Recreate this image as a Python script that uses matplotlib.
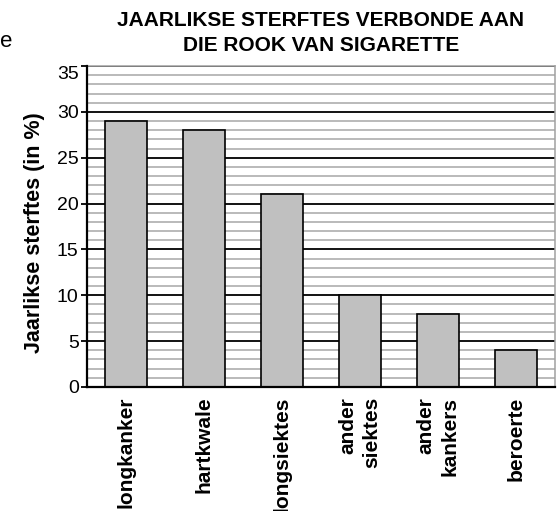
import matplotlib.pyplot as plt
from matplotlib.ticker import MultipleLocator

plt.rcParams['font.family'] = ['Liberation Sans', 'DejaVu Sans']

# Annual deaths linked to smoking, by cause (%)
causes = ['longkanker', 'hartkwale', 'longsiektes', 'ander\nsiektes', 'ander\nkankers', 'beroerte']
deaths_pct = [29, 28, 21, 10, 8, 4]
y_ticks = [0, 5, 10, 15, 20, 25, 30, 35]

fig = plt.figure(figsize=(5.6, 5.11), dpi=100)
ax = fig.add_axes([0.1554, 0.2427, 0.8356, 0.6281])

x = range(len(causes))
ax.bar(x, deaths_pct, width=0.54, color='#c0c0c0', edgecolor='black',
       linewidth=1.2, zorder=3)

ax.set_xlim(-0.5, len(causes) - 0.5)
ax.set_ylim(0, 35)
ax.set_yticks(y_ticks)
ax.yaxis.set_minor_locator(MultipleLocator(1))

# grey lines every unit, black lines every five
ax.grid(which='minor', axis='y', color='#b4b4b4', linewidth=1.3, zorder=1)
ax.grid(which='major', axis='y', color='black', linewidth=1.3, zorder=2)
ax.set_axisbelow(True)

ax.tick_params(axis='y', which='major', length=4, width=1.3, labelsize=14, pad=2)
ax.tick_params(axis='y', which='minor', length=0)
ax.tick_params(axis='x', length=0, pad=7)

ax.set_xticks(list(x))
ax.set_xticklabels(causes, rotation=90, fontsize=15, fontweight='bold',
                   va='top', ha='center', multialignment='right',
                   linespacing=1.35)

# keep the top label inside the frame
ax.get_yticklabels()[-1].set_va('top')

for side in ['top', 'right']:
    ax.spines[side].set_color('#a0a0a0')
    ax.spines[side].set_linewidth(1.1)
for side in ['left', 'bottom']:
    ax.spines[side].set_color('black')
    ax.spines[side].set_linewidth(1.6)
    ax.spines[side].set_zorder(4)

ax.set_ylabel('Jaarlikse sterftes (in %)', fontsize=15.5, fontweight='bold')
ax.yaxis.set_label_coords(-0.09, 0.48)

fig.text(0.573, 0.936, 'JAARLIKSE STERFTES VERBONDE AAN\nDIE ROOK VAN SIGARETTE',
         ha='center', va='center', fontsize=15, fontweight='bold', linespacing=1.4)
fig.text(0.0, 0.918, 'e', ha='left', va='center', fontsize=16)

plt.savefig('out.png', dpi=100, facecolor='white')
